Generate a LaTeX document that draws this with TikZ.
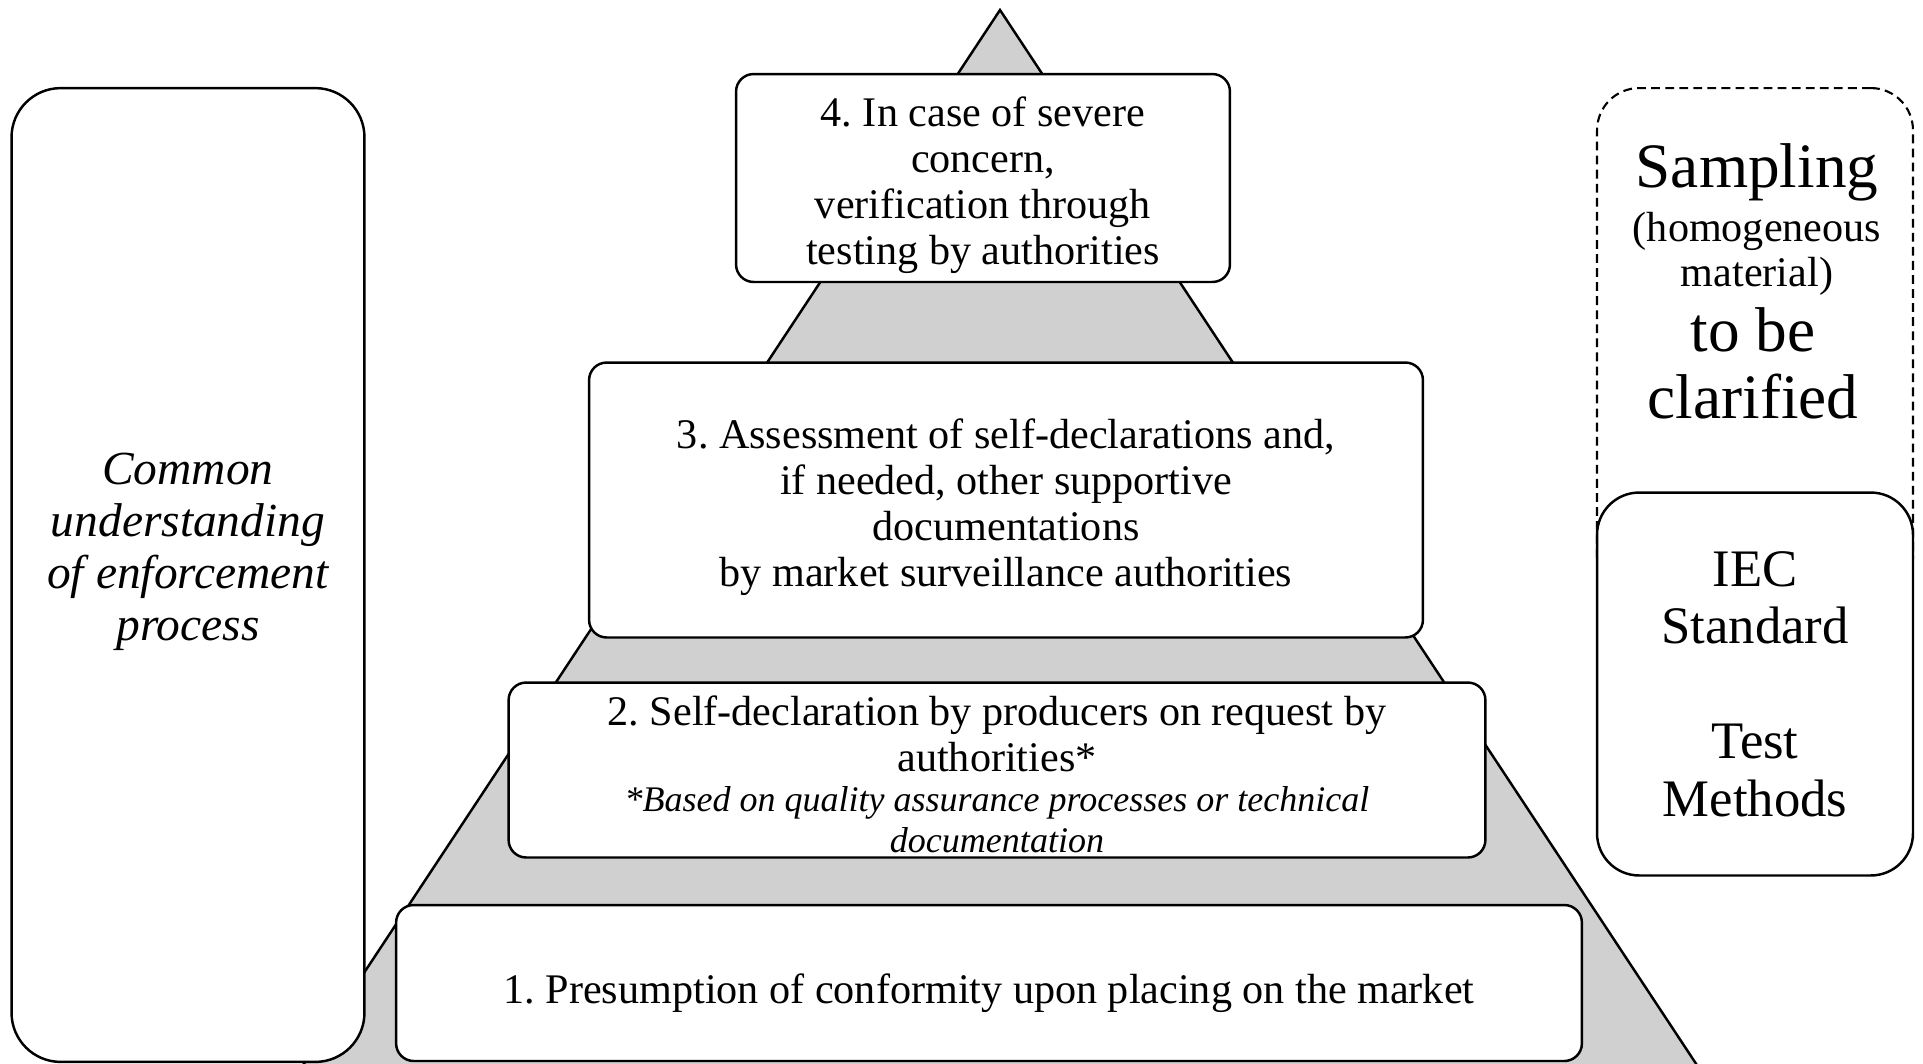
\documentclass[tikz,border=0pt]{standalone}
\usepackage{fontspec}
\setmainfont{Liberation Serif}
\frenchspacing
\definecolor{pyrgray}{RGB}{208,208,208}
\newcommand{\tierstrut}[1]{\rule{0pt}{#1}}
\begin{document}
\begin{tikzpicture}[x=0.02cm,y=-0.02cm,line width=1.4pt,
    tier/.style={draw,fill=white,rounded corners=10pt,align=flush center,inner sep=0pt,
      font=\fontsize{24}{26.2}\selectfont},
    panel/.style={draw,fill=white,rounded corners=24pt,inner sep=0pt}]
  \useasboundingbox (0,0) rectangle (1923,1063);
  \clip (0,0) rectangle (1923,1063);
  % pyramid behind the tiers
  \fill[pyrgray] (1000,10) -- (1720,1100) -- (280,1100) -- cycle;
  \draw (280,1100) -- (1000,10) -- (1720,1100);
  % tiers
  \node[tier,minimum width=9.88cm,minimum height=4.16cm] (severe) at (983,178)
    {\tierstrut{24.6pt}4. In case of severe\\concern,\\verification through\\testing by authorities};
  \node[tier,minimum width=16.68cm,minimum height=5.5cm] (assess) at (1006,500)
    {\tierstrut{24.6pt}3. Assessment of self-declarations and,\\if needed, other supportive\\documentations\\by market surveillance authorities};
  \node[tier,minimum width=19.54cm,minimum height=3.5cm,text width=18cm] (selfdecl) at (997,770)
    {\tierstrut{21.8pt}2. Self-declaration by producers on request by\\authorities*\par
     {\fontsize{20.5}{23}\selectfont\itshape *Based on quality assurance processes or technical\\documentation\par}};
  \node[tier,minimum width=23.72cm,minimum height=3.12cm] (presume) at (989,983)
    {\tierstrut{28.5pt}1. Presumption of conformity upon placing on the market};
  % left side
  \node[panel,rounded corners=28pt,minimum width=7.06cm,minimum height=19.48cm] (leftbox) at (188,575) {};
  \node[align=center,font=\itshape\fontsize{27}{29.6}\selectfont] (common) at (188,552)
    {Common\\understanding\\of enforcement\\process};
  % right side
  \node[panel,dashed,dash pattern=on 5pt off 3pt,line width=1.2pt,minimum width=6.32cm,minimum height=10.24cm] (sampbox) at (1755,344) {};
  \node[font=\fontsize{36}{40}\selectfont] (sampling) at (1757,172) {Sampling};
  \node[align=center,font=\fontsize{24}{25.6}\selectfont] (homog) at (1757,254) {(homogeneous\\material)};
  \node[align=center,font=\fontsize{36}{38}\selectfont] (clarify) at (1753,363) {to be\\clarified};
  \node[panel,align=center,minimum width=6.32cm,minimum height=7.66cm,
    font=\fontsize{30}{32.6}\selectfont] (iec) at (1755,684)
    {IEC\\Standard\\[33pt]Test\\Methods};
\end{tikzpicture}
\end{document}
